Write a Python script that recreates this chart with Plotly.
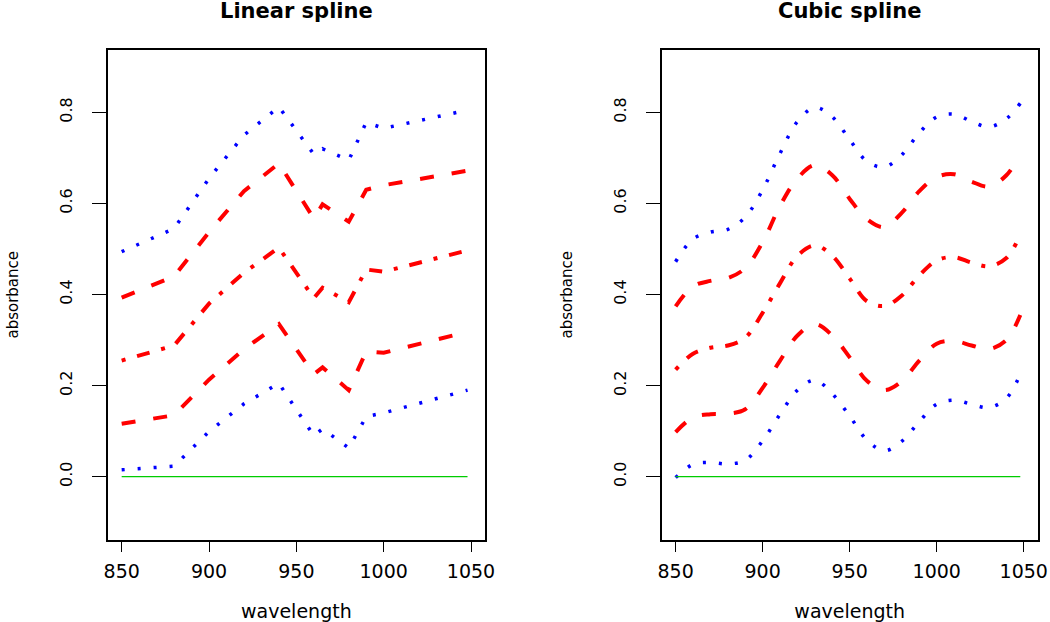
import plotly.graph_objects as go

# ---------------- data ----------------
lin_x = [850, 880, 900, 920, 940, 960, 965, 980, 990, 1000, 1048]
lin_top = [0.494, 0.545, 0.655, 0.750, 0.812, 0.708, 0.720, 0.695, 0.778, 0.765, 0.805]
lin_d1 = [0.393, 0.440, 0.537, 0.627, 0.688, 0.567, 0.598, 0.560, 0.630, 0.640, 0.672]
lin_dd = [0.255, 0.288, 0.380, 0.448, 0.503, 0.392, 0.415, 0.383, 0.455, 0.450, 0.497]
lin_d2 = [0.116, 0.135, 0.213, 0.280, 0.335, 0.225, 0.240, 0.190, 0.275, 0.272, 0.318]
lin_bot = [0.015, 0.023, 0.099, 0.160, 0.205, 0.090, 0.105, 0.063, 0.132, 0.140, 0.190]

cub_x = [850, 860, 870, 880, 890, 900, 910, 920, 930, 940, 950, 960, 970, 980, 990,
         1000, 1010, 1020, 1030, 1040, 1048]
cub_top = [0.472, 0.522, 0.537, 0.543, 0.570, 0.630, 0.710, 0.780, 0.811, 0.790, 0.740,
           0.692, 0.680, 0.707, 0.755, 0.790, 0.796, 0.780, 0.768, 0.786, 0.820]
cub_d1 = [0.374, 0.418, 0.430, 0.436, 0.458, 0.515, 0.595, 0.655, 0.684, 0.662, 0.610,
          0.565, 0.548, 0.580, 0.627, 0.658, 0.664, 0.648, 0.637, 0.662, 0.708]
cub_dd = [0.235, 0.270, 0.283, 0.288, 0.305, 0.360, 0.425, 0.485, 0.508, 0.485, 0.435,
          0.385, 0.375, 0.398, 0.442, 0.475, 0.482, 0.470, 0.462, 0.480, 0.532]
cub_d2 = [0.098, 0.130, 0.137, 0.138, 0.148, 0.195, 0.255, 0.310, 0.335, 0.310, 0.262,
          0.210, 0.190, 0.210, 0.255, 0.292, 0.298, 0.288, 0.280, 0.300, 0.355]
cub_bot = [-0.002, 0.027, 0.031, 0.028, 0.036, 0.079, 0.137, 0.190, 0.212, 0.182, 0.133,
           0.080, 0.057, 0.078, 0.121, 0.159, 0.168, 0.159, 0.152, 0.172, 0.225]

base_x = [850, 1048]
base_y = [0, 0]

x_ticks = [850, 900, 950, 1000, 1050]
y_ticks = [0.0, 0.2, 0.4, 0.6, 0.8]
y_tick_text = ["0.0", "0.2", "0.4", "0.6", "0.8"]
titles = ["Linear spline", "Cubic spline"]

# ---------------- styles ----------------
W, H = 1050, 622
BLUE, RED, GREEN = "#0000FF", "#FF0000", "#00CC00"
DOT = "3px,13px"
DASH = "14px,18px"
DASHDOT = "4px,12px,13px,12px"
FONT = "DejaVu Sans, Liberation Sans, Arial, sans-serif"

fig = go.Figure()

def add_panel(xs, series, shape, xa, ya):
    styles = [(BLUE, 3.5, DOT), (RED, 4, DASH), (RED, 4, DASHDOT), (RED, 4, DASH), (BLUE, 3.5, DOT)]
    for ys, (col, w, dash) in zip(series, styles):
        fig.add_trace(go.Scatter(x=xs, y=ys, mode="lines", xaxis=xa, yaxis=ya,
                                 line=dict(color=col, width=w, dash=dash, shape=shape,
                                           smoothing=1.0),
                                 showlegend=False, hoverinfo="skip"))
    fig.add_trace(go.Scatter(x=base_x, y=base_y, mode="lines", xaxis=xa, yaxis=ya,
                             line=dict(color=GREEN, width=1.3), showlegend=False,
                             hoverinfo="skip"))

add_panel(lin_x, [lin_top, lin_d1, lin_dd, lin_d2, lin_bot], "linear", "x", "y")
add_panel(cub_x, [cub_top, cub_d1, cub_dd, cub_d2, cub_bot], "spline", "x2", "y2")

def px_x(p):
    return p / W

def px_y(p):
    return 1 - p / H

ydom = [px_y(539.5), px_y(50)]
xdom1 = [px_x(107.7), px_x(485)]
xdom2 = [px_x(661.7), px_x(1037.7)]

common_x = dict(range=[842, 1058], tickvals=x_ticks, ticks="outside", ticklen=11,
                tickwidth=1.3, tickcolor="black", showline=True, linecolor="black",
                linewidth=1.5, mirror=True, showgrid=False, zeroline=False,
                automargin=False, ticklabelstandoff=3,
                tickfont=dict(family=FONT, size=19, color="black"),
                title=dict(text="wavelength", font=dict(family=FONT, size=19, color="black"),
                           standoff=30))
common_y = dict(range=[-0.138, 0.937], tickvals=y_ticks, ticktext=y_tick_text,
                ticks="outside", ticklen=14, tickwidth=1.3, tickcolor="black",
                tickangle=-90, showline=True, linecolor="black", linewidth=1.5,
                mirror=True, showgrid=False, zeroline=False,
                automargin=False, ticklabelstandoff=14,
                tickfont=dict(family=FONT, size=16, color="black"),
                title=dict(text="absorbance", font=dict(family=FONT, size=15, color="black"),
                           standoff=34))

fig.update_layout(
    width=W, height=H, margin=dict(l=0, r=0, t=0, b=0),
    paper_bgcolor="white", plot_bgcolor="white",
    xaxis=dict(domain=xdom1, anchor="y", **common_x),
    yaxis=dict(domain=ydom, anchor="x", **common_y),
    xaxis2=dict(domain=xdom2, anchor="y2", **common_x),
    yaxis2=dict(domain=ydom, anchor="x2", **common_y),
)

for dom, t in zip([xdom1, xdom2], titles):
    fig.add_annotation(text="<b>%s</b>" % t, x=(dom[0] + dom[1]) / 2, y=px_y(11),
                       xref="paper", yref="paper", xanchor="center", yanchor="middle",
                       showarrow=False, font=dict(family=FONT, size=21, color="black"))

fig.write_html("out.html", config={"displayModeBar": False},
               post_script="document.body.style.margin='0';")
